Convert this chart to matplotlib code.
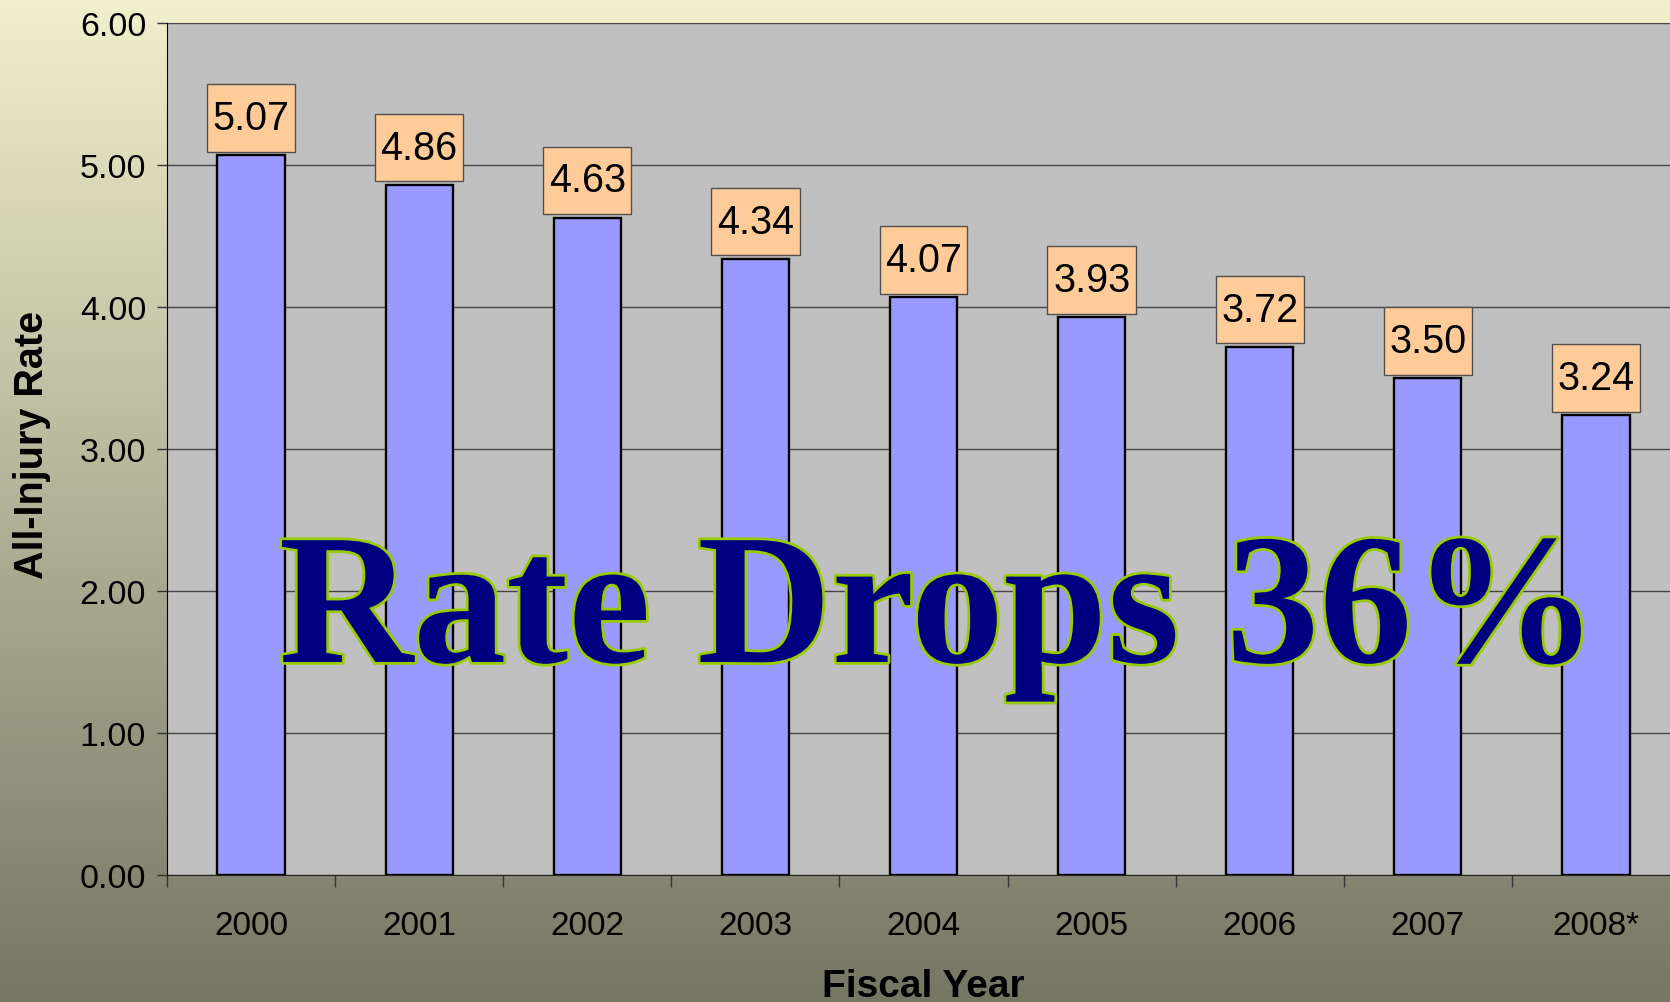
import numpy as np
import matplotlib
matplotlib.use('Agg')
import matplotlib.pyplot as plt
import matplotlib.patheffects as pe
from matplotlib.path import Path

years = ['2000', '2001', '2002', '2003', '2004', '2005', '2006', '2007', '2008*']
rates = [5.07, 4.86, 4.63, 4.34, 4.07, 3.93, 3.72, 3.50, 3.24]
yticks = [0, 1, 2, 3, 4, 5, 6]
headline = 'Rate Drops 36%'

plt.rcParams['font.family'] = ['Liberation Sans', 'DejaVu Sans']


def label_box(x0, y0, width, height, mutation_size):
    # plain rectangle, narrow at the sides and taller than the text
    px, py = 0.14 * mutation_size, 0.37 * mutation_size
    x0, y0 = x0 - px, y0 - py
    x1, y1 = x0 + width + 2 * px, y0 + height + 2 * py
    return Path([(x0, y0), (x1, y0), (x1, y1), (x0, y1), (x0, y0)], closed=True)


fig = plt.figure(figsize=(16.7, 10.03), dpi=100)

# vertical gradient behind everything
bg = fig.add_axes([0, 0, 1, 1], zorder=-10)
grad = np.linspace(0, 1, 256)[:, None, None]
top = np.array([240, 240, 206]) / 255
bot = np.array([118, 118, 100]) / 255
bg.imshow(top + (bot - top) * grad, aspect='auto', extent=[0, 1, 0, 1])
bg.axis('off')

ax = fig.add_axes([0.1, 0.1266, 0.906, 0.8495])
ax.set_facecolor('#c0c0c0')
x = np.arange(len(years))
ax.bar(x, rates, width=0.4, color='#9999ff', edgecolor='black', linewidth=1.7, zorder=3)

ax.set_xlim(-0.5, len(years) - 0.5)
ax.set_ylim(0, 6)
ax.set_yticks(yticks)
ax.set_yticklabels([f'{v:.2f}' for v in yticks])
ax.yaxis.grid(True, color='#454545', linewidth=1)
ax.set_axisbelow(True)

ax.set_xticks(x)
ax.set_xticklabels(years)
ax.set_xticks(np.arange(len(years) + 1) - 0.5, minor=True)
ax.tick_params(axis='x', which='major', length=0, pad=25, labelsize=24)
ax.tick_params(axis='x', which='minor', length=8.5, width=1, direction='out', color='#333333')
ax.tick_params(axis='y', length=7, width=1, pad=8, labelsize=24.5, color='#333333')

for s in ['top', 'right']:
    ax.spines[s].set_visible(False)
ax.spines['left'].set_color('black')
ax.spines['bottom'].set_color('#222222')

for xi, v in zip(x, rates):
    ax.annotate(f'{v:.2f}', (xi, v), xytext=(0, 13), textcoords='offset points',
                ha='center', va='bottom', fontsize=28.5, zorder=5,
                bbox=dict(boxstyle=label_box, fc='#ffcc99', ec='#505050', lw=1))

fig.text(0.553, 0.006, 'Fiscal Year', ha='center', va='baseline',
         fontsize=28, fontweight='bold')
fig.text(0.019, 0.556, 'All-Injury Rate', ha='center', va='center', rotation=90,
         fontsize=28.5, fontweight='bold')

big = ax.text(4.09, 1.5, headline, ha='center', va='baseline', fontsize=132,
              family='Liberation Serif', fontweight='bold', color='#000080', zorder=6,
              path_effects=[pe.withStroke(linewidth=4, foreground='#99cc00')])
fig.canvas.draw()
w = big.get_window_extent().width
big.set_fontsize(132 * 1320 / w)

fig.savefig('out.png', dpi=100)
